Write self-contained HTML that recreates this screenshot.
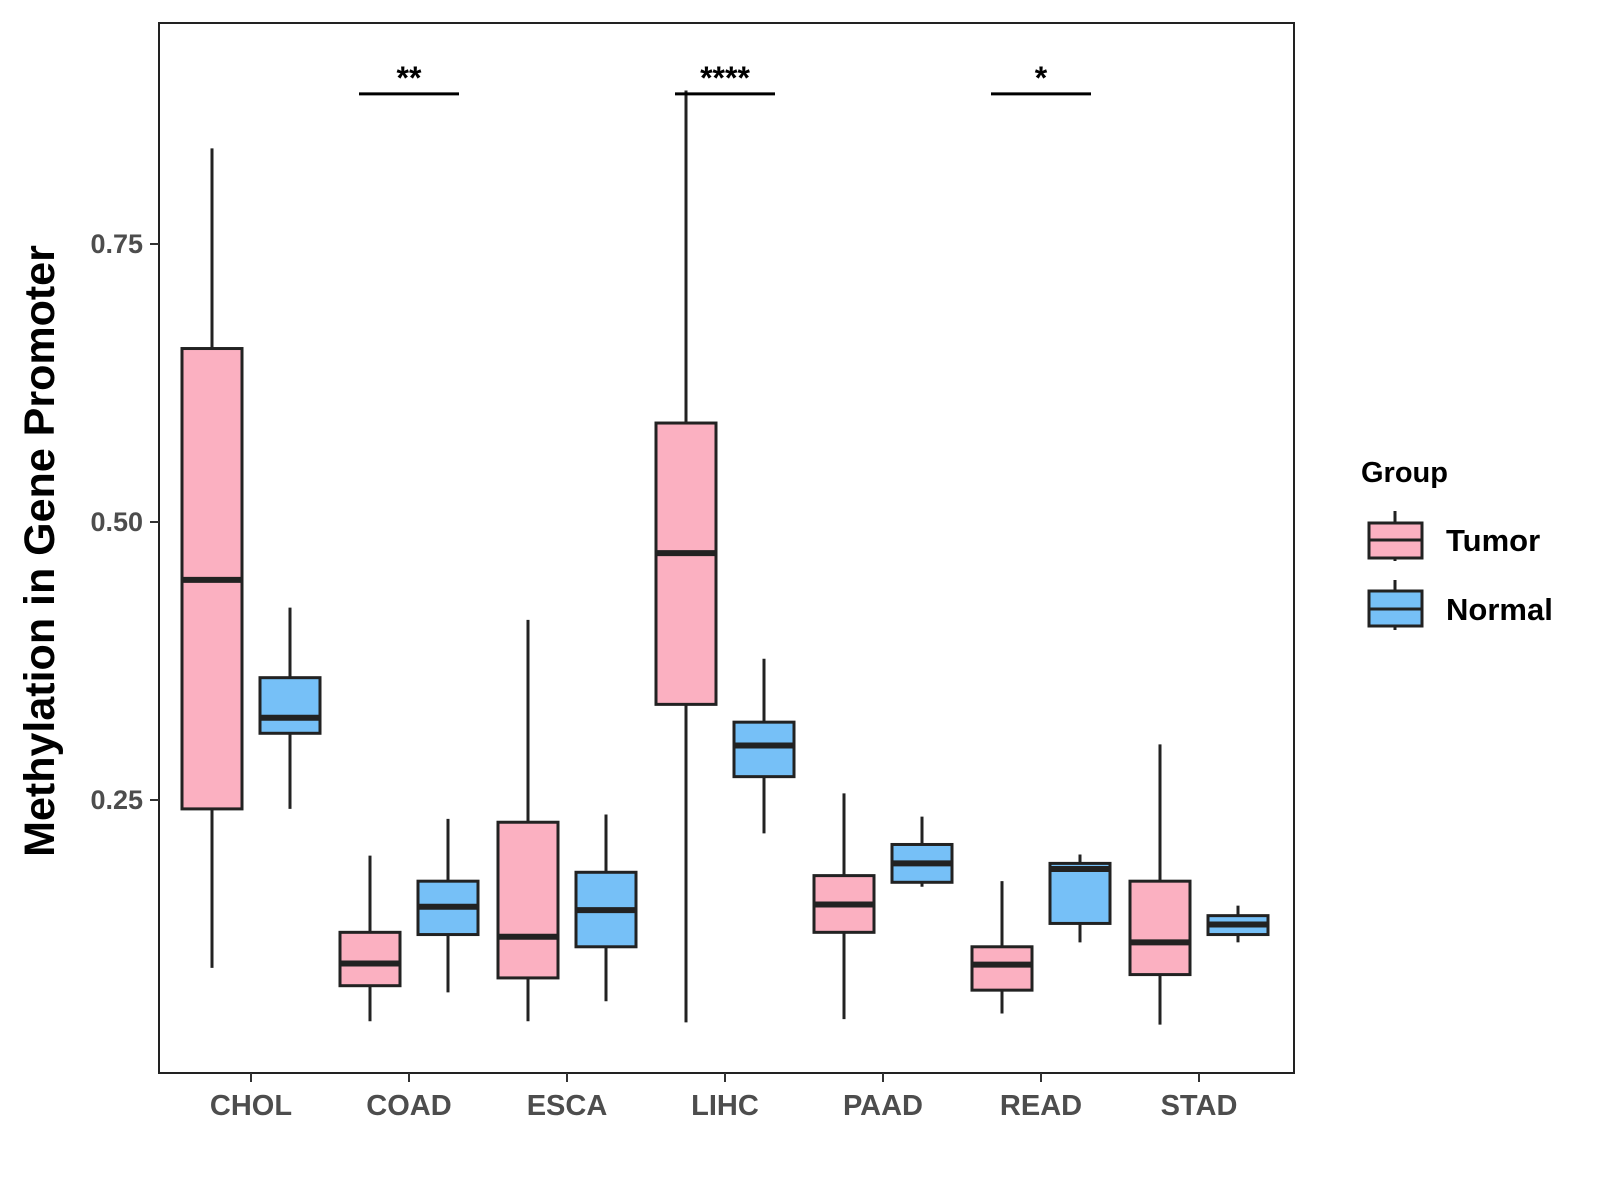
<!DOCTYPE html>
<html><head><meta charset="utf-8"><style>
html,body{margin:0;padding:0;background:#fff;}
svg{display:block;font-family:"Liberation Sans",Arial,sans-serif;}
</style></head><body>
<svg id="chart" width="1600" height="1200" viewBox="0 0 1600 1200" xmlns="http://www.w3.org/2000/svg">
<rect x="159" y="23" width="1135" height="1050" fill="#fff" stroke="#222" stroke-width="2"/>
<g id="marks"></g>
<text transform="translate(54,551) rotate(-90)" text-anchor="middle" font-size="43" font-weight="bold" fill="#000">Methylation in Gene Promoter</text>
<g transform="translate(-7,0)">
<text x="1368" y="482" font-size="29" font-weight="bold">Group</text>
<g>
<line x1="1402" y1="511" x2="1402" y2="561" stroke="#222" stroke-width="3"/>
<rect x="1376" y="523" width="53" height="35" fill="#fbb0c1" stroke="#222" stroke-width="3"/>
<line x1="1376" y1="540" x2="1429" y2="540" stroke="#222" stroke-width="3"/>
<text x="1453" y="551" font-size="31" font-weight="bold">Tumor</text></g>
<g>
<line x1="1402" y1="580" x2="1402" y2="630" stroke="#222" stroke-width="3"/>
<rect x="1376" y="591" width="53" height="35" fill="#76c0f7" stroke="#222" stroke-width="3"/>
<line x1="1376" y1="609" x2="1429" y2="609" stroke="#222" stroke-width="3"/>
<text x="1453" y="620" font-size="31" font-weight="bold">Normal</text></g>
</g>
</svg>
<script>
const categories=["CHOL","COAD","ESCA","LIHC","PAAD","READ","STAD"];
// [whiskerLow, Q1, median, Q3, whiskerHigh]
const tumorStats=[[0.099,0.242,0.448,0.656,0.836],[0.051,0.083,0.103,0.131,0.2],[0.051,0.09,0.127,0.23,0.412],[0.05,0.336,0.472,0.589,0.888],[0.053,0.131,0.156,0.182,0.256],[0.058,0.079,0.102,0.118,0.177],[0.048,0.093,0.122,0.177,0.3]];
const normalStats=[[0.242,0.31,0.324,0.36,0.423],[0.077,0.129,0.154,0.177,0.233],[0.069,0.118,0.151,0.185,0.237],[0.22,0.271,0.299,0.32,0.377],[0.172,0.176,0.193,0.21,0.235],[0.122,0.139,0.188,0.193,0.201],[0.122,0.129,0.138,0.146,0.155]];
const yTicks=[0.25,0.5,0.75];
const yTickLabels=["0.25","0.50","0.75"];
const sigCategories=["COAD","LIHC","READ"];
const sigLabels=["**","****","*"];
const sigLevel=0.885;

const NS="http://www.w3.org/2000/svg";
const g=document.getElementById('marks');
function y(v){return 244+(0.75-v)*1112;}
function x(i){return 251+i*158;}
function mk(tag,attrs,parent){const e=document.createElementNS(NS,tag);for(const k in attrs)e.setAttribute(k,attrs[k]);(parent||g).appendChild(e);return e;}

yTicks.forEach((t,i)=>{
  const tk=mk('line',{x1:150,x2:159,y1:y(t),y2:y(t),stroke:'#333','stroke-width':2});
  
  
  const tl=mk('text',{x:143,y:y(t)+9,'text-anchor':'end','font-size':27,'font-weight':'bold',fill:'#4d4d4d'});
  tl.textContent=yTickLabels[i];
  
  
});
categories.forEach((c,i)=>{
  const tk=mk('line',{x1:x(i),x2:x(i),y1:1073,y2:1082,stroke:'#333','stroke-width':2});
  
  
  const tl=mk('text',{x:x(i),y:1115,'text-anchor':'middle','font-size':29,'font-weight':'bold',fill:'#4d4d4d'});
  tl.textContent=c;
  
  
});
function box(cx,s,fill,name){
  const grp=mk('g',{});
  
  
  mk('line',{x1:cx,x2:cx,y1:y(s[0]),y2:y(s[4]),stroke:'#222','stroke-width':3},grp);
  mk('rect',{x:cx-30,y:y(s[3]),width:60,height:y(s[1])-y(s[3]),fill:fill,stroke:'#222','stroke-width':3},grp);
  mk('line',{x1:cx-30,x2:cx+30,y1:y(s[2]),y2:y(s[2]),stroke:'#222','stroke-width':6},grp);
}
categories.forEach((c,i)=>{
  box(x(i)-39,tumorStats[i],'#fbb0c1','box-tumor-'+c.toLowerCase());
  box(x(i)+39,normalStats[i],'#76c0f7','box-normal-'+c.toLowerCase());
});
sigCategories.forEach((c,j)=>{
  const i=categories.indexOf(c);
  const l=mk('line',{x1:x(i)-50,x2:x(i)+50,y1:y(sigLevel),y2:y(sigLevel),stroke:'#000','stroke-width':3});
  
  
  const t=mk('text',{x:x(i),y:y(sigLevel)-5,'text-anchor':'middle','font-size':32,'font-weight':'bold',fill:'#000'});
  t.textContent=sigLabels[j];
  
  
});
</script>
</body></html>
